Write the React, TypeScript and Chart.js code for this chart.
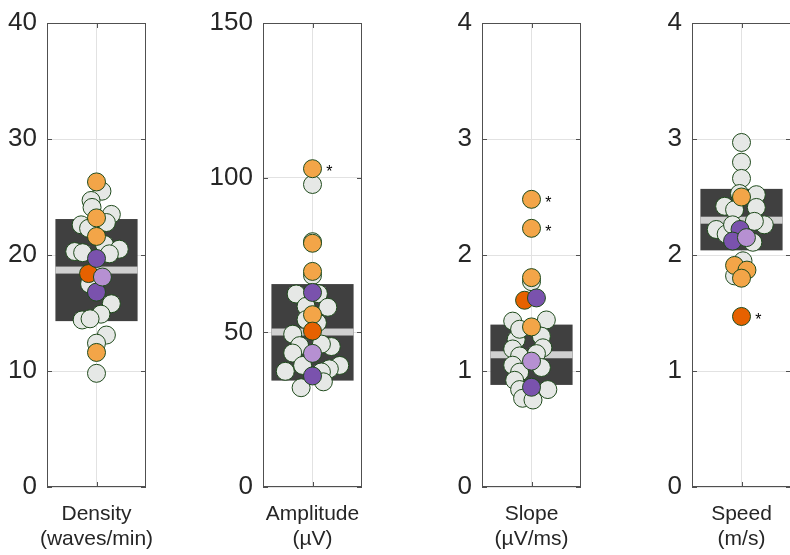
import React, { useEffect, useRef } from "react";
import { Chart, registerables } from "chart.js";

Chart.register(...registerables);

// ---------- Density (waves/min) ----------
const densityTitle = ["Density", "(waves/min)"];
const densityTicks = { max: 40, step: 10 };
const densityBox = [14.3, 18.7, 23.1]; // q1, median, q3
const densityLight = [25.5, 24.7, 24.1, 23.5, 22.6, 22.3, 22.8, 20.9, 20.3, 20.2, 20.5, 20.1, 17.5, 15.8, 14.9, 14.4, 14.5, 13.1, 12.4, 9.8];
const densityLightJitter = [0.11, -0.11, -0.09, 0.3, -0.31, -0.16, 0.2, 0.16, -0.44, -0.28, 0.46, 0.26, -0.14, 0.3, 0.09, -0.29, -0.13, 0.2, 0, 0];
const densityOrange = [26.3, 23.2, 21.6, 11.6];
const densityOrangeJitter = [0, 0, 0, 0];
const densityDarkOrange = [18.4];
const densityDarkOrangeJitter = [-0.16];
const densityPurple = [19.7, 16.8];
const densityPurpleJitter = [0, 0];
const densityLightPurple = [18.1];
const densityLightPurpleJitter = [0.12];
const densityStars: number[] = [];

// ---------- Amplitude (µV) ----------
const amplitudeTitle = ["Amplitude", "(µV)"];
const amplitudeTicks = { max: 150, step: 50 };
const amplitudeBox = [34.4, 50.1, 65.6];
const amplitudeLight = [97.8, 79.3, 68.4, 62.4, 62.5, 58.4, 58.1, 54.1, 53.1, 49.4, 45.7, 43.3, 45.4, 46.2, 39.3, 37.4, 39.3, 38.2, 37.2, 32.1, 34.0];
const amplitudeLightJitter = [0, 0, 0, -0.33, 0.12, -0.13, 0.31, -0.13, 0.1, -0.4, -0.26, -0.4, 0.38, 0.18, -0.2, -0.55, 0.55, 0.34, 0.18, -0.23, 0.22];
const amplitudeOrange = [102.9, 78.8, 69.7, 55.7];
const amplitudeOrangeJitter = [0, 0, 0, 0];
const amplitudeDarkOrange = [50.4];
const amplitudeDarkOrangeJitter = [0];
const amplitudePurple = [62.9, 35.9];
const amplitudePurpleJitter = [0, 0];
const amplitudeLightPurple = [43.2];
const amplitudeLightPurpleJitter = [0];
const amplitudeStars = [102.9];

// ---------- Slope (µV/ms) ----------
const slopeTitle = ["Slope", "(µV/ms)"];
const slopeTicks = { max: 4, step: 1 };
const slopeBox = [0.88, 1.14, 1.4];
const slopeLight = [1.77, 1.43, 1.44, 1.3, 1.27, 1.36, 1.19, 1.2, 1.13, 1.15, 1.05, 1.03, 0.99, 0.92, 0.84, 0.84, 0.765, 0.75];
const slopeLightJitter = [0, -0.38, 0.3, 0.2, -0.31, -0.24, -0.38, 0.23, -0.24, 0.1, -0.38, 0.2, -0.24, -0.34, 0.33, -0.24, -0.18, 0.03];
const slopeOrange = [2.48, 2.23, 1.805, 1.38];
const slopeOrangeJitter = [0, 0, 0, 0];
const slopeDarkOrange = [1.61];
const slopeDarkOrangeJitter = [-0.14];
const slopePurple = [1.63, 0.86];
const slopePurpleJitter = [0.1, 0];
const slopeLightPurple = [1.085];
const slopeLightPurpleJitter = [0];
const slopeStars = [2.48, 2.23];

// ---------- Speed (m/s) ----------
const speedTitle = ["Speed", "(m/s)"];
const speedTicks = { max: 4, step: 1 };
const speedBox = [2.04, 2.3, 2.57];
const speedLight = [2.97, 2.8, 2.66, 2.53, 2.52, 2.42, 2.41, 2.39, 2.26, 2.22, 2.29, 2.18, 2.26, 2.11, 1.95, 1.82];
const speedLightJitter = [0, 0, 0, -0.04, 0.3, -0.34, 0.3, -0.14, 0.46, -0.51, 0.26, -0.31, -0.18, 0.23, 0.03, -0.14];
const speedOrange = [2.5, 1.91, 1.87, 1.8];
const speedOrangeJitter = [0, -0.14, 0.11, 0];
const speedDarkOrange = [1.47];
const speedDarkOrangeJitter = [0];
const speedPurple = [2.22, 2.12];
const speedPurpleJitter = [-0.03, -0.18];
const speedLightPurple = [2.15];
const speedLightPurpleJitter = [0.1];
const speedStars = [1.47];

const AXIS_W = 60;
const RIGHT_PAD = 14;
const PLOT_W = 99;
const CANVAS_W = AXIS_W + PLOT_W + RIGHT_PAD;

const panels = [
  { title: densityTitle, ticks: densityTicks, box: densityBox, light: [densityLight, densityLightJitter], orange: [densityOrange, densityOrangeJitter], dark: [densityDarkOrange, densityDarkOrangeJitter], purple: [densityPurple, densityPurpleJitter], lpurple: [densityLightPurple, densityLightPurpleJitter], stars: densityStars, plotLeft: 47 },
  { title: amplitudeTitle, ticks: amplitudeTicks, box: amplitudeBox, light: [amplitudeLight, amplitudeLightJitter], orange: [amplitudeOrange, amplitudeOrangeJitter], dark: [amplitudeDarkOrange, amplitudeDarkOrangeJitter], purple: [amplitudePurple, amplitudePurpleJitter], lpurple: [amplitudeLightPurple, amplitudeLightPurpleJitter], stars: amplitudeStars, plotLeft: 263 },
  { title: slopeTitle, ticks: slopeTicks, box: slopeBox, light: [slopeLight, slopeLightJitter], orange: [slopeOrange, slopeOrangeJitter], dark: [slopeDarkOrange, slopeDarkOrangeJitter], purple: [slopePurple, slopePurpleJitter], lpurple: [slopeLightPurple, slopeLightPurpleJitter], stars: slopeStars, plotLeft: 482 },
  { title: speedTitle, ticks: speedTicks, box: speedBox, light: [speedLight, speedLightJitter], orange: [speedOrange, speedOrangeJitter], dark: [speedDarkOrange, speedDarkOrangeJitter], purple: [speedPurple, speedPurpleJitter], lpurple: [speedLightPurple, speedLightPurpleJitter], stars: speedStars, plotLeft: 692 },
];

const BOX_HALF = 0.83;
const STAR_OFFSET = 0.34;
const AXIS_COLOR = "#505050";
const TEXT_COLOR = "#262626";
const FONT = "'Liberation Sans', Arial, Helvetica, sans-serif";

function pts(pair: any) {
  const [vals, jit] = pair;
  return vals.map((v: number, i: number) => ({ x: jit[i], y: v }));
}

function Panel({ p }: { p: any }) {
  const ref = useRef<HTMLCanvasElement>(null);
  useEffect(() => {
    if (!ref.current) return;
    const mk = (pair: any, fill: string, order: number) => ({
      type: "scatter" as const,
      data: pts(pair),
      backgroundColor: fill,
      borderColor: "#1f4a1c",
      borderWidth: 1,
      pointRadius: 9,
      pointHoverRadius: 9,
      order,
    });
    const boxPlugin = {
      id: "boxPlugin",
      beforeDatasetsDraw(chart: any) {
        const { ctx, scales } = chart;
        const x = scales.x, y = scales.y;
        const [q1, med, q3] = p.box;
        const xl = x.getPixelForValue(-BOX_HALF);
        const xr = x.getPixelForValue(BOX_HALF);
        const yt = y.getPixelForValue(q3);
        const yb = y.getPixelForValue(q1);
        ctx.save();
        ctx.fillStyle = "#404040";
        ctx.fillRect(xl, yt, xr - xl, yb - yt);
        const ym = y.getPixelForValue(med);
        ctx.fillStyle = "#d0d0d0";
        ctx.fillRect(xl, ym - 3.5, xr - xl, 7);
        ctx.restore();
      },
      afterDraw(chart: any) {
        const { ctx, chartArea, scales } = chart;
        const { left, right, top, bottom } = chartArea;
        ctx.save();
        ctx.strokeStyle = AXIS_COLOR;
        ctx.lineWidth = 1;
        ctx.strokeRect(left + 0.5, top + 0.5, right - left - 1, bottom - top - 1);
        ctx.beginPath();
        scales.y.ticks.forEach((t: any) => {
          const yy = Math.round(scales.y.getPixelForValue(t.value)) + 0.5;
          ctx.moveTo(left, yy); ctx.lineTo(left + 5, yy);
          ctx.moveTo(right, yy); ctx.lineTo(right - 5, yy);
        });
        const xc = Math.round(scales.x.getPixelForValue(0)) + 0.5;
        ctx.moveTo(xc, bottom); ctx.lineTo(xc, bottom - 5);
        ctx.moveTo(xc, top); ctx.lineTo(xc, top + 5);
        ctx.stroke();
        // axis label (two lines)
        ctx.fillStyle = TEXT_COLOR;
        ctx.font = `21px ${FONT}`;
        ctx.textAlign = "center";
        ctx.textBaseline = "middle";
        const cx = scales.x.getPixelForValue(0);
        ctx.fillText(p.title[0], cx, bottom + 27);
        ctx.fillText(p.title[1], cx, bottom + 52);
        // significance stars
        ctx.fillStyle = "#000";
        ctx.font = `16px ${FONT}`;
        p.stars.forEach((v: number) => {
          ctx.fillText("*", scales.x.getPixelForValue(STAR_OFFSET), scales.y.getPixelForValue(v) + 4);
        });
        ctx.restore();
      },
    };
    const chart = new Chart(ref.current, {
      type: "scatter",
      data: {
        datasets: [
          mk(p.light, "#e6e8e6", 5),
          mk(p.orange, "#f3a548", 4),
          mk(p.dark, "#e66100", 3),
          mk(p.purple, "#7a52ad", 2),
          mk(p.lpurple, "#b690d2", 1),
        ],
      },
      options: {
        animation: false,
        responsive: false,
        devicePixelRatio: 1,
        events: [],
        layout: { autoPadding: false, padding: { top: 15, left: 0, right: RIGHT_PAD, bottom: 3 } },
        plugins: { legend: { display: false }, tooltip: { enabled: false } },
        scales: {
          x: {
            type: "linear",
            min: -1,
            max: 1,
            ticks: { display: false, stepSize: 1 },
            border: { display: false },
            grid: {
              drawTicks: false,
              color: (c: any) => (c.tick && c.tick.value === 0 ? "#e2e2e2" : "rgba(0,0,0,0)"),
            },
            afterFit: (s: any) => { s.height = 65; },
          },
          y: {
            min: 0,
            max: p.ticks.max,
            ticks: {
              stepSize: p.ticks.step,
              color: TEXT_COLOR,
              font: { family: FONT, size: 26, lineHeight: 1 },
              padding: 10,
            },
            border: { display: false },
            grid: { drawTicks: false, color: "#e2e2e2" },
            afterFit: (s: any) => { s.width = AXIS_W; },
          },
        },
      },
      plugins: [boxPlugin],
    } as any);
    return () => chart.destroy();
  }, [p]);
  return (
    <canvas
      ref={ref}
      width={CANVAS_W}
      height={555}
      style={{ position: "absolute", left: p.plotLeft - AXIS_W, top: 0, width: CANVAS_W, height: 555 }}
    />
  );
}

export default function App() {
  return (
    <div style={{ position: "fixed", left: 0, top: 0, width: 790, height: 555, overflow: "hidden", background: "#fff" }}>
      {panels.map((p, i) => (
        <Panel key={i} p={p} />
      ))}
    </div>
  );
}
